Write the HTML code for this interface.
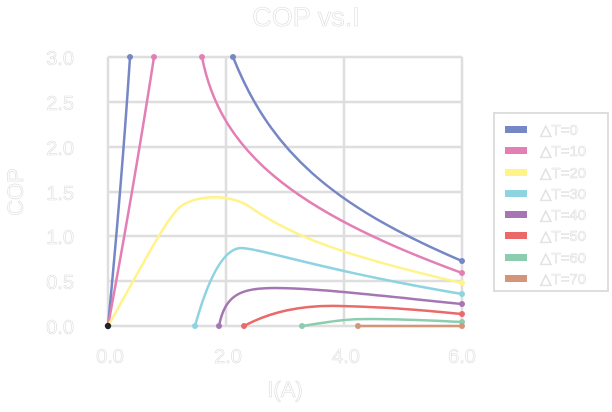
<!DOCTYPE html>
<html><head><meta charset="utf-8"><style>
body{margin:0;background:#fff;width:612px;height:407px;overflow:hidden}
text{font-family:"Liberation Sans",sans-serif;fill:#fff;stroke:#dcdcdc;stroke-width:0.6}
</style></head><body>
<svg width="612" height="407" viewBox="0 0 612 407">
<g stroke="#dedede" stroke-width="2.5" fill="none">
<line x1="108" y1="57" x2="108" y2="326"/><line x1="226" y1="57" x2="226" y2="326"/>
<line x1="344" y1="57" x2="344" y2="326"/><line x1="462" y1="57" x2="462" y2="326"/>
<line x1="108" y1="57" x2="462" y2="57"/><line x1="108" y1="102" x2="462" y2="102"/>
<line x1="108" y1="147" x2="462" y2="147"/><line x1="108" y1="192" x2="462" y2="192"/>
<line x1="108" y1="236" x2="462" y2="236"/><line x1="108" y1="281" x2="462" y2="281"/>
<line x1="108" y1="326" x2="462" y2="326"/>
</g>
<g fill="none" stroke-width="2.5">
<path d="M108,326 Q122,180 130,57" stroke="#7587c4"/>
<path d="M233,57 C270,150 330,205 462,261" stroke="#7587c4"/>
<path d="M108,326 Q135,180 154,57" stroke="#e47fb5"/>
<path d="M202,57 C220,150 290,210 462,273" stroke="#e47fb5"/>
<path d="M108,326 C140,270 165,220 180,207 C195,195 230,193 250,207 C290,235 340,255 462,283" stroke="#fff38a"/>
<path d="M195,326 C205,290 220,250 240,248 C260,248 320,270 462,294" stroke="#8ed3e0"/>
<path d="M219,326 C225,295 240,288 275,288 C320,288 400,298 462,304" stroke="#a676b4"/>
<path d="M244,326 C270,312 300,305 340,306 C390,307 430,311 462,314" stroke="#ea6a6a"/>
<path d="M302,326 C330,322 340,319 370,319 C410,319 440,321 462,322" stroke="#8ccdb0"/>
<path d="M358,326 L462,326" stroke="#d4967a"/>
</g>
<g>
<circle cx="130" cy="57" r="3" fill="#7587c4"/><circle cx="233" cy="57" r="3" fill="#7587c4"/><circle cx="462" cy="261" r="3" fill="#7587c4"/>
<circle cx="154" cy="57" r="3" fill="#e47fb5"/><circle cx="202" cy="57" r="3" fill="#e47fb5"/><circle cx="462" cy="273" r="3" fill="#e47fb5"/>
<circle cx="462" cy="283" r="3" fill="#fff38a"/>
<circle cx="195" cy="326" r="3" fill="#8ed3e0"/><circle cx="462" cy="294" r="3" fill="#8ed3e0"/>
<circle cx="219" cy="326" r="3" fill="#a676b4"/><circle cx="462" cy="304" r="3" fill="#a676b4"/>
<circle cx="244" cy="326" r="3" fill="#ea6a6a"/><circle cx="462" cy="314" r="3" fill="#ea6a6a"/>
<circle cx="302" cy="326" r="3" fill="#8ccdb0"/><circle cx="462" cy="322" r="3" fill="#8ccdb0"/>
<circle cx="358" cy="326" r="3" fill="#d4967a"/><circle cx="462" cy="326" r="3" fill="#d4967a"/>
<circle cx="108" cy="326" r="3.2" fill="#222"/>
</g>
<text x="306" y="26" font-size="27" text-anchor="middle">COP vs.I</text>
<g font-size="20" text-anchor="end">
<text x="74" y="65">3.0</text><text x="74" y="110">2.5</text><text x="74" y="155">2.0</text>
<text x="74" y="200">1.5</text><text x="74" y="244">1.0</text><text x="74" y="289">0.5</text><text x="74" y="334">0.0</text>
</g>
<g font-size="20" text-anchor="middle">
<text x="110" y="363">0.0</text><text x="228" y="363">2.0</text><text x="346" y="363">4.0</text><text x="462" y="363">6.0</text>
<text x="285" y="397" font-size="22">I(A)</text>
</g>
<text transform="translate(23,192) rotate(-90)" font-size="22" text-anchor="middle">COP</text>
<rect x="494" y="113" width="114" height="178" fill="#fff" stroke="#dedede" stroke-width="2"/>
<g>
<rect x="505" y="126" width="22" height="7" fill="#7587c4"/>
<rect x="505" y="147" width="22" height="7" fill="#e47fb5"/>
<rect x="505" y="169" width="22" height="7" fill="#fff38a"/>
<rect x="505" y="190" width="22" height="7" fill="#8ed3e0"/>
<rect x="505" y="211" width="22" height="7" fill="#a676b4"/>
<rect x="505" y="232" width="22" height="7" fill="#ea6a6a"/>
<rect x="505" y="254" width="22" height="7" fill="#8ccdb0"/>
<rect x="505" y="275" width="22" height="7" fill="#d4967a"/>
</g>
<g font-size="15">
<text x="540" y="135">△T=0</text><text x="540" y="156">△T=10</text><text x="540" y="178">△T=20</text>
<text x="540" y="199">△T=30</text><text x="540" y="220">△T=40</text><text x="540" y="241">△T=50</text>
<text x="540" y="263">△T=60</text><text x="540" y="284">△T=70</text>
</g>
</svg>
</body></html>
